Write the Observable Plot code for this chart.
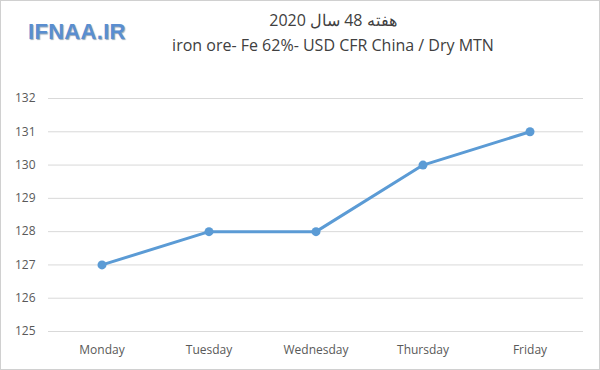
<!DOCTYPE html>
<html><head><meta charset="utf-8">
<script src="https://cdn.jsdelivr.net/npm/d3@7"></script>
<script src="https://cdn.jsdelivr.net/npm/@observablehq/plot@0.6"></script>
<style>
html,body{margin:0;padding:0;background:#fff;}
#wrap{position:relative;width:600px;height:370px;overflow:hidden;}
#frame{position:absolute;left:0;top:0;width:598px;height:368px;border:1px solid #d0d0d0;pointer-events:none;}
.t{position:absolute;font-family:"Open Sans","Liberation Sans",sans-serif;color:#404040;white-space:nowrap;}
#title{left:0;width:666px;top:9px;text-align:center;font-size:16px;direction:rtl;}
#sub{left:0;width:666px;top:34px;text-align:center;font-size:16px;}
#logo{left:28px;top:19px;font-family:"Liberation Sans",sans-serif;font-weight:bold;font-size:22px;color:#5a8ed0;text-shadow:1px 1px 1px #9ab;letter-spacing:0.3px;}
</style></head><body>
<div id="wrap">
<div id="chart"></div>
<div class="t" id="logo">IFNAA.IR</div>
<div class="t" id="title">هفته 48 سال 2020</div>
<div class="t" id="sub">iron ore- Fe 62%- USD CFR China / Dry MTN</div>
<div id="frame"></div>
</div>
<script>
const days = ["Monday","Tuesday","Wednesday","Thursday","Friday"];
const prices = [127, 128, 128, 130, 131];
const yTicks = [125,126,127,128,129,130,131,132];
const data = days.map((d,i)=>({day:d, price:prices[i]}));
const chart = Plot.plot({
  width: 600, height: 370,
  marginTop: 98, marginBottom: 39, marginLeft: 48, marginRight: 17,
  style: {fontFamily: '"Open Sans","Liberation Sans",sans-serif', fontSize: "12px", color: "#595959", background: "transparent"},
  x: {type: "band", domain: days, padding: 0, label: null, tickSize: 0, tickPadding: 14},
  y: {domain: [125,132], ticks: yTicks, tickFormat: "d", label: null, tickSize: 0, tickPadding: 13},
  marks: [
    Plot.gridY(yTicks, {stroke: "#d9d9d9", strokeOpacity: 1, strokeWidth: 1}),
    Plot.line(data, {x: "day", y: "price", stroke: "#5b9bd5", strokeWidth: 3}),
    Plot.dot(data, {x: "day", y: "price", fill: "#5b9bd5", r: 4.5})
  ]
});
document.getElementById("chart").appendChild(chart);
</script>
</body></html>
